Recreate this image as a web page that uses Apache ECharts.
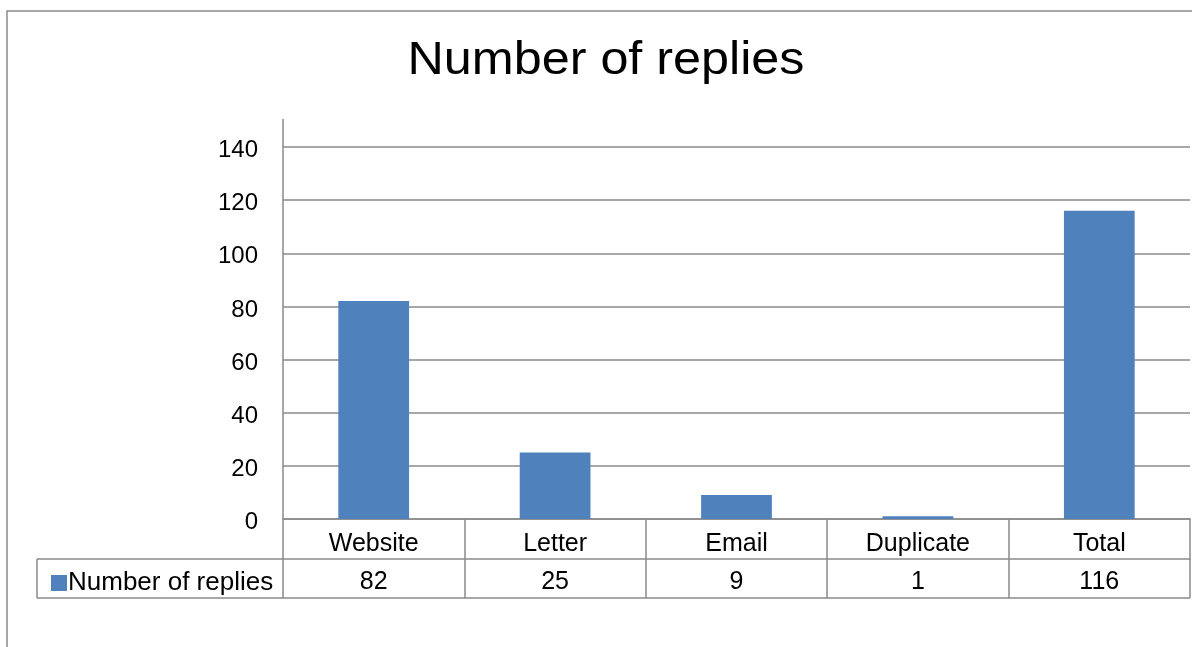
<!DOCTYPE html>
<html>
<head>
<meta charset="utf-8">
<script src="https://cdn.jsdelivr.net/npm/echarts@6/dist/echarts.min.js"></script>
<style>
html,body{margin:0;padding:0;background:#fff;}
#chart{width:1192px;height:647px;}
</style>
</head>
<body>
<div id="chart"></div>
<script>
const titleText = 'Number of replies';
const seriesName = 'Number of replies';
const categories = ['Website', 'Letter', 'Email', 'Duplicate', 'Total'];
const values = [82, 25, 9, 1, 116];
const yMin = 0, yMax = 140, yStep = 20;

const FONT = '"Liberation Sans", Arial, sans-serif';
const GRAY = '#8a8a8a';

const chart = echarts.init(document.getElementById('chart'), null, {renderer: 'canvas'});
chart.setOption({
  animation: false,
  backgroundColor: '#fff',
  textStyle: {fontFamily: FONT},
  grid: {left: 283, right: 2, top: 147, bottom: 128, containLabel: false},
  legend: {
    show: true,
    left: 46, top: 565,
    itemWidth: 16, itemHeight: 16, itemGap: 5,
    icon: 'rect',
    data: [seriesName],
    textStyle: {fontFamily: FONT, fontSize: 26, color: '#000', padding: [0, 0, 0, -4]}
  },
  xAxis: [{
    type: 'category',
    data: categories,
    position: 'bottom',
    axisLine: {show: true, lineStyle: {color: GRAY, width: 1.5}},
    axisTick: {show: true, length: 79, lineStyle: {color: GRAY, width: 1.5}},
    axisLabel: {fontFamily: FONT, fontSize: 25, color: '#000', margin: 13, lineHeight: 25}
  }, {
    type: 'category',
    data: values.map(v => String(v)),
    position: 'bottom',
    offset: 40,
    axisLine: {show: true, lineStyle: {color: GRAY, width: 1.5}},
    axisTick: {show: false},
    axisLabel: {fontFamily: FONT, fontSize: 25, color: '#000', margin: 11, lineHeight: 25}
  }],
  yAxis: {
    type: 'value',
    min: yMin, max: yMax, interval: yStep,
    axisLine: {show: true, lineStyle: {color: GRAY, width: 1.5}},
    axisTick: {show: false},
    axisLabel: {fontFamily: FONT, fontSize: 24, color: '#000', margin: 25, verticalAlign: 'top', lineHeight: 7},
    splitLine: {show: true, lineStyle: {color: GRAY, width: 1.5}}
  },
  series: [{
    name: seriesName,
    type: 'bar',
    xAxisIndex: 0,
    data: values,
    barWidth: '39%',
    itemStyle: {color: '#4F81BD'}
  }],
  graphic: [
    {type: 'rect', shape: {x: 7, y: 11, width: 1250, height: 700}, style: {fill: 'none', stroke: GRAY, lineWidth: 1.5}, silent: true},
    {type: 'line', shape: {x1: 283, y1: 119, x2: 283, y2: 147}, style: {stroke: GRAY, lineWidth: 1.5}, silent: true},
    {type: 'line', shape: {x1: 37, y1: 559, x2: 283, y2: 559}, style: {stroke: GRAY, lineWidth: 1.5}, silent: true},
    {type: 'line', shape: {x1: 37, y1: 598, x2: 1190, y2: 598}, style: {stroke: GRAY, lineWidth: 1.5}, silent: true},
    {type: 'line', shape: {x1: 37, y1: 559, x2: 37, y2: 598}, style: {stroke: GRAY, lineWidth: 1.5}, silent: true},
    {type: 'text', x: 606, y: 61, scaleX: 1.07, scaleY: 1,
     style: {text: titleText, x: 0, y: 0, align: 'center', verticalAlign: 'middle', font: '47px ' + FONT, fill: '#000'}, silent: true}
  ]
});
</script>
</body>
</html>
